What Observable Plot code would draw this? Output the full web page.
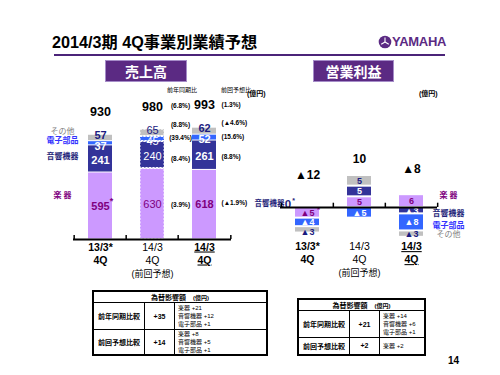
<!DOCTYPE html>
<html><head><meta charset="utf-8">
<script src="https://cdn.jsdelivr.net/npm/d3@7"></script>
<script src="https://cdn.jsdelivr.net/npm/@observablehq/plot@0.6"></script>
<style>
body{margin:0;background:#fff;}
#page{position:relative;width:500px;height:375px;overflow:hidden;background:#fff;font-family:"Liberation Sans",Arial,"Noto Sans CJK JP",sans-serif;}
.abs{position:absolute;white-space:nowrap;}
.ptitle{position:absolute;background:#5b2a83;color:#fff;font-weight:bold;font-size:14px;text-align:center;line-height:22px;height:22px;border:1px solid #a58cc8;box-sizing:border-box;}
.ul text{text-decoration:underline;}
table.fx{position:absolute;border-collapse:collapse;border:2px solid #000;font-size:7px;color:#000;}
table.fx td{border:1.5px solid #000;padding:0;}
table.fx td.h{text-align:center;font-weight:bold;}
table.fx td.r{text-align:center;font-weight:bold;}
table.fx td.d{font-size:6px;line-height:8px;padding-left:3px;vertical-align:middle;}
</style></head>
<body><div id="page">
<div class="abs" style="left:52px;top:33px;font-size:16.2px;line-height:18px;font-weight:bold;color:#000;">2014/3期 4Q事業別業績予想</div>
<svg class="abs" style="left:378px;top:35px" width="14" height="14"><circle cx="7" cy="7" r="6.3" fill="#5b2a83"/><g stroke="#fff" stroke-width="1.1"><line x1="7" y1="2.5" x2="7" y2="7"/><line x1="7" y1="7" x2="3.2" y2="9.3"/><line x1="7" y1="7" x2="10.8" y2="9.3"/></g></svg>
<div class="abs" style="left:392px;top:34px;font-size:13px;line-height:16px;font-weight:bold;color:#5b2a83;letter-spacing:-0.3px;">YAMAHA</div>
<div class="abs" style="left:54px;top:54px;width:391px;height:2px;background:#4b2479;"></div>
<div class="ptitle" style="left:105px;top:60px;width:82px;">売上高</div>
<div class="ptitle" style="left:313px;top:60px;width:81px;">営業利益</div>
<div class="abs" style="left:247px;top:88px;font-size:7px;font-weight:bold;">(億円)</div>
<div class="abs" style="left:419px;top:88px;font-size:7px;font-weight:bold;">(億円)</div>
<div class="abs" style="left:167px;top:85px;font-size:6px;">前年同期比</div>
<div class="abs" style="left:221px;top:85px;font-size:6px;">前回予想比</div>
<div id="left" class="abs" style="left:0px;top:80px;"></div>
<div id="right" class="abs" style="left:250px;top:80px;"></div>
<div id="tables"></div>
<div class="abs" style="left:448px;top:355px;font-size:10px;font-weight:bold;">14</div>
</div>
<script>
// ---------- data ----------
const categories = ["13/3", "14/3F", "14/3"];
const catLine1 = ["13/3*", "14/3", "14/3"];
const catLine2 = ["4Q", "4Q", "4Q"];
const catLine3 = ["", "(前回予想)", ""];
const segments = ["楽器", "音響機器", "電子部品", "その他"];
const segLegend = ["楽 器", "音響機器", "電子部品", "その他"];

const salesInstruments = [595, 630, 618];
const salesAudio = [241, 240, 261];
const salesElectronic = [37, 45, 52];
const salesOther = [57, 65, 62];
const salesTotal = [930, 980, 993];
// rows: total, その他, 電子部品, 音響機器, 楽器
const salesYoY = ["(6.8%)", "(8.8%)", "(39.4%)", "(8.4%)", "(3.9%)"];
const salesVsPlan = ["(1.3%)", "(▲4.6%)", "(15.6%)", "(8.8%)", "(▲1.9%)"];

const opInstruments = [-5, 5, 6];
const opAudio = [0, 5, -3];
const opElectronic = [-4, -5, -8];
const opOther = [-3, 5, -3];
const opTotal = [-12, 10, -8];

const fxRowLabels = ["前年同期比較", "前回予想比較"];
const salesFxTotal = ["+35", "+14"];
const salesFxDetail = [["楽器 +21", "音響機器 +12", "電子部品 +1"], ["楽器 +8", "音響機器 +5", "電子部品 +1"]];
const opFxTotal = ["+21", "+2"];
const opFxDetail = [["楽器 +14", "音響機器 +6", "電子部品 +1"], ["楽器 +2"]];

// ---------- styles ----------
const FONT = '"Liberation Sans", Arial, "Noto Sans CJK JP", sans-serif';
const segColor = {"楽器": "#cc99ff", "音響機器": "#333399", "電子部品": "#3366ff", "その他": "#c0c0c0"};
const labelColor = {"楽器": "#800080", "音響機器": "#ffffff", "電子部品": "#ffffff", "その他": "#1a1a80"};
const legendColor = {"楽器": "#800080", "音響機器": "#1f1f7a", "電子部品": "#3333ff", "その他": "#808080"};
const PLAN = 1, CUR = 2;

function stackRows(series) {
  const rows = [];
  categories.forEach((c, i) => {
    let pos = 0, neg = 0;
    segments.forEach((s, j) => {
      const v = series[j][i];
      let y1, y2;
      if (v >= 0) { y1 = pos; y2 = pos + v; pos = y2; } else { y1 = neg; y2 = neg + v; neg = y2; }
      rows.push({cat: c, i, seg: s, j, value: v, y1, y2, mid: (y1 + y2) / 2, posTop: 0});
    });
    rows.filter(r => r.i === i).forEach(r => r.posTop = pos);
  });
  return rows;
}

function categoryMarks(dyBase) {
  const cd = categories.map((c, i) => ({cat: c, i, l1: catLine1[i], l2: catLine2[i], l3: catLine3[i]}));
  const m = [];
  const groups = [[cd.filter(d => d.i !== PLAN && d.i !== CUR), "bold", null], [cd.filter(d => d.i === PLAN), "normal", null], [cd.filter(d => d.i === CUR), "bold", "ul"]];
  for (const [data, fw, cls] of groups) {
    const o = {x: "cat", frameAnchor: "bottom", fontSize: 10.5, fontWeight: fw, fill: "#000"};
    if (cls) o.className = cls;
    m.push(Plot.text(data, {...o, text: "l1", dy: dyBase}));
    m.push(Plot.text(data, {...o, text: "l2", dy: dyBase + 13}));
    m.push(Plot.text(data, {...o, text: "l3", dy: dyBase + 26, fontSize: 9}));
  }
  return m;
}

// ---------- left: sales ----------
{
  const W = 250, H = 210, ml = 73, mr = 19;
  const step = (W - ml - mr) / 3;
  const rows = stackRows([salesInstruments, salesAudio, salesElectronic, salesOther]);
  categories.forEach((c, i) => {
    const r = s => rows.find(d => d.i === i && d.seg === s);
    const o = r("その他"), e = r("電子部品"), a = r("音響機器"), n = r("楽器");
    o.ly = o.mid + 20; e.ly = Math.min(e.mid, o.ly - 95); a.ly = a.mid - 10; n.ly = n.mid;
  });
  const marks = [];
  segments.forEach(s => {
    const rs = rows.filter(r => r.seg === s);
    marks.push(Plot.barY(rs.filter(r => r.i !== PLAN), {x: "cat", y1: "y1", y2: "y2", fill: segColor[s], insetTop: 0.5, insetBottom: 0.5}));
    marks.push(Plot.barY(rs.filter(r => r.i === PLAN), {x: "cat", y1: "y1", y2: "y2", fill: segColor[s], stroke: "#fff", strokeWidth: 1, strokeDasharray: "2,1.5", insetTop: 0.5, insetBottom: 0.5}));
    marks.push(Plot.text(rs.filter(r => r.i !== PLAN), {x: "cat", y: "ly", text: d => String(d.value), fill: labelColor[s], fontSize: 11, fontWeight: "bold"}));
    marks.push(Plot.text(rs.filter(r => r.i === PLAN), {x: "cat", y: "ly", text: d => String(d.value), fill: labelColor[s], fontSize: 11, fontWeight: "normal"}));
  });
  marks.push(Plot.text(rows.filter(r => r.i === 0 && r.seg === "楽器"), {x: "cat", y: "ly", text: () => "*", dx: 11, dy: -5, fill: "#800080", fontSize: 9, fontWeight: "bold"}));
  const tot = categories.map((c, i) => ({cat: c, v: salesTotal[i]}));
  marks.push(Plot.text(tot, {x: "cat", y: d => d.v + 200, text: d => String(d.v), fontSize: 12.5, fontWeight: "bold", fill: "#000"}));
  const legY = {"その他": 40, "電子部品": 50, "音響機器": 30, "楽器": 95};
  const leg = rows.filter(r => r.i === 0).map(r => ({cat: r.cat, seg: r.seg, y: r.ly + legY[r.seg], t: segLegend[r.j]}));
  segments.forEach(s => marks.push(Plot.text(leg.filter(d => d.seg === s), {x: "cat", y: "y", text: "t", dx: -38, fill: legendColor[s], fontSize: 8, fontWeight: s === "その他" ? "normal" : "bold"})));
  const cur = rows.filter(r => r.i === CUR);
  const g = s => cur.find(r => r.seg === s);
  const pctY = [salesTotal[CUR] + 190, g("その他").mid + 60, g("電子部品").mid - 5, g("音響機器").mid - 30, g("楽器").mid];
  const pct = pctY.map((y, k) => ({cat: categories[CUR], y, a: salesYoY[k], b: salesVsPlan[k]}));
  marks.push(Plot.text(pct, {x: "cat", y: "y", text: "a", dx: -24, fontSize: 6.5, fontWeight: "bold", fill: "#000"}));
  marks.push(Plot.text(pct, {x: "cat", y: d => d.y + 15, text: "b", dx: 17, textAnchor: "start", fontSize: 6.5, fontWeight: "bold", fill: "#000"}));
  marks.push(Plot.ruleY([0], {stroke: "#000", strokeWidth: 2}));
  marks.push(Plot.ruleX(categories, {x: d => d, dx: -step / 2, y1: 0, y2: 35, stroke: "#000", strokeWidth: 1.5}));
  marks.push(Plot.ruleX([categories[2]], {x: d => d, dx: step / 2, y1: 0, y2: 35, stroke: "#000", strokeWidth: 1.5}));
  marks.push(...categoryMarks(11));
  const svg = Plot.plot({
    width: W, height: H, marginLeft: ml, marginRight: mr, marginTop: 46.4, marginBottom: 51,
    x: {type: "band", domain: categories, paddingInner: 0.53, paddingOuter: 0.265, axis: null},
    y: {domain: [0, 1000], axis: null},
    style: {fontFamily: FONT, background: "transparent", overflow: "visible"},
    marks
  });
  document.getElementById("left").appendChild(svg);
}

// ---------- right: operating income ----------
{
  const W = 250, H = 210, ml = 30, mr = 63;
  const step = (W - ml - mr) / 3;
  const full = stackRows([opInstruments, opAudio, opElectronic, opOther]);
  const rows = full.filter(r => r.value !== 0);
  rows.forEach(r => { r.ly = r.mid; });
  // keep the small "other" loss label clear of the label above it
  rows.filter(r => r.seg === "その他" && r.value < 0).forEach(r => {
    const above = rows.find(d => d.i === r.i && d.seg === "電子部品" && d.value < 0);
    r.ly = above ? Math.min(r.mid, above.ly - 4.5) : r.mid;
  });
  const marks = [];
  segments.forEach(s => {
    const rs = rows.filter(r => r.seg === s);
    marks.push(Plot.barY(rs, {x: "cat", y1: "y1", y2: "y2", fill: segColor[s], insetTop: 1, insetBottom: 1}));
    marks.push(Plot.text(rs, {x: "cat", y: "ly", text: d => (d.value < 0 ? "▲" : "") + Math.abs(d.value), fill: labelColor[s], fontSize: 9, fontWeight: "bold"}));
  });
  marks.push(Plot.text(rows.filter(r => r.i === 0 && r.seg === "楽器"), {x: "cat", y: "ly", text: () => "*", dx: 11, dy: -3, fill: "#800080", fontSize: 8, fontWeight: "bold"}));
  const tot = categories.map((c, i) => {
    const pt = full.find(r => r.i === i).posTop;
    return {cat: c, v: opTotal[i], y: 15 + pt * 0.5};
  });
  marks.push(Plot.text(tot, {x: "cat", y: "y", text: d => (d.v < 0 ? "▲" : "") + Math.abs(d.v), fontSize: 12, fontWeight: "bold", fill: "#000"}));
  const legOff = {"楽器": 2.5, "音響機器": -1.5, "電子部品": -1.5, "その他": 0};
  const leg = full.filter(r => r.i === CUR).map(r => ({cat: r.cat, seg: r.seg, y: r.mid + legOff[r.seg], t: segLegend[r.j]}));
  segments.forEach(s => marks.push(Plot.text(leg.filter(d => d.seg === s), {x: "cat", y: "y", text: "t", dx: 37, fill: legendColor[s], fontSize: 8, fontWeight: s === "その他" ? "normal" : "bold"})));
  const zero = full.filter(r => r.i === 0 && r.value === 0).map(r => ({cat: r.cat, t: segLegend[r.j], v: String(r.value)}));
  marks.push(Plot.text(zero, {x: "cat", y: () => 1.6, text: "t", dx: -23, textAnchor: "end", fill: legendColor["音響機器"], fontSize: 7.5, fontWeight: "bold"}));
  marks.push(Plot.text(zero, {x: "cat", y: () => 1.6, text: "v", dx: -19.5, fill: legendColor["音響機器"], fontSize: 11.5, fontWeight: "bold"}));
  marks.push(Plot.text(zero, {x: "cat", y: () => 1.6, text: () => "*", dx: -14, dy: -3, fill: legendColor["音響機器"], fontSize: 7, fontWeight: "bold"}));
  marks.push(Plot.ruleY([0], {stroke: "#000", strokeWidth: 2}));
  marks.push(Plot.ruleX(categories, {x: d => d, dx: -step / 2, y1: 0, y2: 2, stroke: "#000", strokeWidth: 1.5}));
  marks.push(Plot.ruleX([categories[2]], {x: d => d, dx: step / 2, y1: 0, y2: 2, stroke: "#000", strokeWidth: 1.5}));
  marks.push(...categoryMarks(0));
  const svg = Plot.plot({
    width: W, height: H, marginLeft: ml, marginRight: mr, marginTop: 73.7, marginBottom: 40.4,
    x: {type: "band", domain: categories, paddingInner: 0.54, paddingOuter: 0.27, axis: null},
    y: {domain: [-20, 25], axis: null},
    style: {fontFamily: FONT, background: "transparent", overflow: "visible"},
    marks
  });
  document.getElementById("right").appendChild(svg);
}

// ---------- FX tables ----------
function fxTable(left, top, widths, heights, totals, details) {
  const t = document.createElement("table");
  t.className = "fx";
  t.style.left = left + "px"; t.style.top = top + "px";
  t.style.width = widths.reduce((a, b) => a + b, 0) + "px";
  let html = `<tr style="height:${heights[0]}px"><td class="h" colspan="3">為替影響額　<span style="font-size:6px">(億円)</span></td></tr>`;
  fxRowLabels.forEach((lab, k) => {
    html += `<tr style="height:${heights[k + 1]}px"><td class="r" style="width:${widths[0]}px">${lab}</td><td class="r" style="width:${widths[1]}px">${totals[k]}</td><td class="d">${details[k].join("<br>")}</td></tr>`;
  });
  t.innerHTML = html;
  document.getElementById("tables").appendChild(t);
}
fxTable(92, 290, [50, 29, 97], [10, 27, 25], salesFxTotal, salesFxDetail);
fxTable(297, 298, [50, 29, 50], [10, 27, 17], opFxTotal, opFxDetail);
</script>
</body></html>
